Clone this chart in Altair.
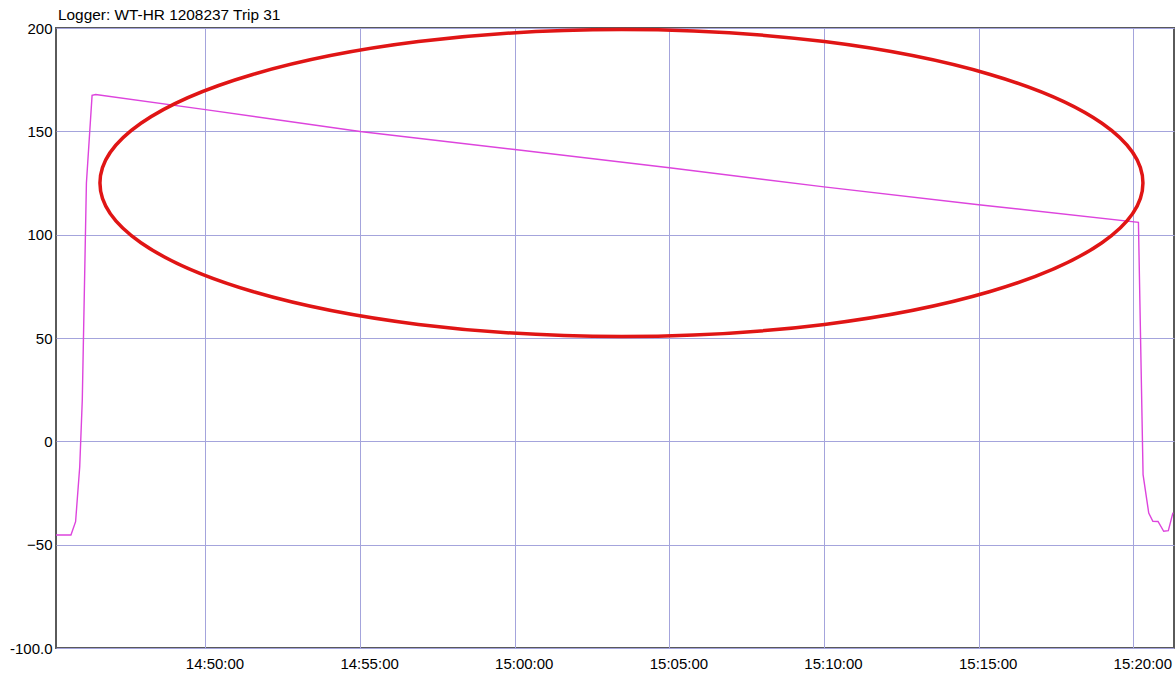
import altair as alt
import pandas as pd

# Logger readings (clock time, temperature)
day = "2012-01-01 "
times = ["14:45:10", "14:45:39", "14:45:48", "14:45:56", "14:46:01", "14:46:09",
         "14:46:20", "14:46:27", "14:50:00", "14:55:00", "15:00:00", "15:05:00",
         "15:10:00", "15:15:00", "15:20:10", "15:20:19", "15:20:30", "15:20:38",
         "15:20:48", "15:20:59", "15:21:08", "15:21:17"]
temps = [-45.3, -45.3, -38.9, -12.4, 20.0, 125.0,
         167.4, 167.8, 160.5, 149.9, 141.2, 132.4,
         123.1, 114.5, 106.0, -16.1, -34.7, -38.7,
         -38.8, -43.5, -43.2, -34.5]

# Highlight ring around the holding phase (centre time / temperature)
ring_time = ["15:03:27"]
ring_temp = [125.0]

# Axis ticks
x_tick_minutes = [(14, 50), (14, 55), (15, 0), (15, 5), (15, 10), (15, 15), (15, 20)]
y_ticks = [-100, -50, 0, 50, 100, 150, 200]

heading = "Logger: WT-HR 1208237 Trip 31"


def dt(h, m, s=0):
    return alt.DateTime(year=2012, month=1, date=1, hours=h, minutes=m, seconds=s)


readings = pd.DataFrame({"time": [day + t for t in times], "temp": temps})
ring = pd.DataFrame({"time": [day + t for t in ring_time], "temp": ring_temp})

x_enc = alt.X(
    "time:T",
    scale=alt.Scale(domain=[dt(14, 45, 10), dt(15, 21, 19)]),
    axis=alt.Axis(values=[dt(h, m) for h, m in x_tick_minutes], format="%H:%M:%S",
                  title=None, labelPadding=8, labelFlush=False, labelOffset=9),
)
y_enc = alt.Y(
    "temp:Q",
    scale=alt.Scale(domain=[-100, 200], nice=False, zero=False),
    axis=alt.Axis(values=y_ticks, title=None, labelPadding=4,
                  labelExpr="datum.value == -100 ? '-100.0' : datum.label"),
)

line = alt.Chart(readings).mark_line(color="#dd44dd", strokeWidth=1.4).encode(x=x_enc, y=y_enc)

ellipse_path = "M -1 0 A 1 0.2943 0 1 0 1 0 A 1 0.2943 0 1 0 -1 0 Z"
highlight = alt.Chart(ring).mark_point(
    shape=ellipse_path, size=1043 ** 2, filled=False,
    stroke="#e01515", strokeWidth=3.5, opacity=1,
).encode(x="time:T", y="temp:Q")

# Heading sits just above the top-left corner of the frame
header = alt.Chart(pd.DataFrame({"label": [heading]})).mark_text(
    align="left", baseline="alphabetic", font="Liberation Sans", fontSize=15.4,
    color="black",
).encode(x=alt.value(2), y=alt.value(-8), text="label:N")

chart = alt.layer(line, highlight, header).properties(
    width=1118,
    height=620,
    autosize=alt.AutoSizeParams(type="none"),
    padding={"left": 56, "top": 28, "right": 1, "bottom": 29},
).configure_view(
    stroke="#5a5a5a", strokeWidth=2,
).configure_axis(
    grid=True, gridColor="#a4a4dc", gridWidth=1, domain=False, ticks=False,
    labelFont="Liberation Sans", labelFontSize=15, labelColor="black",
)

chart.save("out.html", embed_options={"renderer": "svg", "actions": False})
